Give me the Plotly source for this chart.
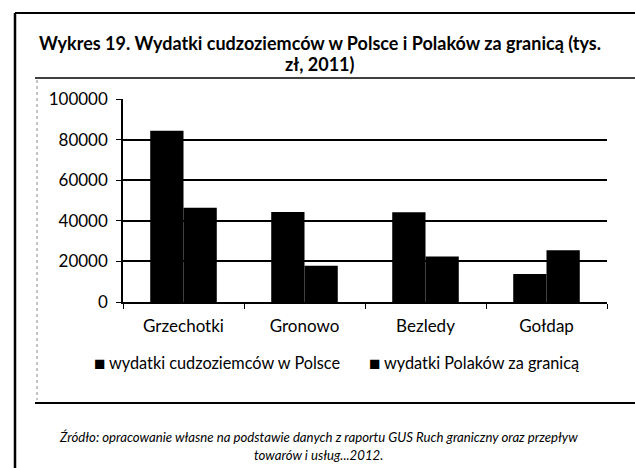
import plotly.graph_objects as go

categories = ["Grzechotki", "Gronowo", "Bezledy", "Gołdap"]
foreigners_in_poland = [84400, 44300, 44200, 13800]
poles_abroad = [46400, 17800, 22400, 25500]
series_names = ["wydatki cudzoziemców w Polsce", "wydatki Polaków za granicą"]
y_ticks = [0, 20000, 40000, 60000, 80000, 100000]

W, H = 635, 468
L, R, T, B = 123, 28, 99, 166
pw, ph = W - L - R, H - T - B

def px(x):
    return (x - L) / pw

def py(y):
    return (H - B - y) / ph

font = "Lato, 'Open Sans', sans-serif"

fig = go.Figure()
for name, vals in zip(series_names, [foreigners_in_poland, poles_abroad]):
    fig.add_trace(go.Bar(x=categories, y=vals, name=name,
                         marker=dict(color="black", line=dict(width=0))))

shapes = [
    # outer frame
    dict(x0=px(15), x1=px(15), y0=py(13), y1=py(468), line=dict(width=2.5)),
    dict(x0=px(15), x1=px(635), y0=py(13), y1=py(13), line=dict(width=2)),
    # chart box
    dict(x0=px(35), x1=px(635), y0=py(78), y1=py(78), line=dict(width=1.5)),
    dict(x0=px(35), x1=px(635), y0=py(403), y1=py(403), line=dict(width=2)),
    dict(x0=px(37), x1=px(37), y0=py(80), y1=py(400), line=dict(width=1, color="#888", dash="dot")),
]
for s in shapes:
    s.update(type="line", xref="paper", yref="paper")
    s["line"].setdefault("color", "black")

def note(text, x, y, size, anchor="center"):
    return dict(text=text, xref="paper", yref="paper", x=px(x), y=py(y), xanchor=anchor,
                yanchor="middle", showarrow=False, borderpad=0,
                font=dict(size=size, family=font))

annotations = [
    note("<b>Wykres 19. Wydatki cudzoziemców w Polsce i Polaków za granicą (tys.</b>", 320, 43, 18),
    note("<b>zł, 2011)</b>", 320, 64, 18),
    # legend swatches + labels
    note("■", 93, 362, 19, "left"),
    note(series_names[0], 108, 362, 16.3, "left"),
    note("■", 368, 362, 19, "left"),
    note(series_names[1], 383, 362, 16.3, "left"),
    note("<i>Źródło: opracowanie własne na podstawie danych z raportu GUS Ruch graniczny oraz przepływ</i>", 318, 437, 13.2),
    note("<i>towarów i usług...2012.</i>", 318, 455, 13.2),
]

fig.update_layout(
    width=W, height=H,
    margin=dict(l=L, r=R, t=T, b=B),
    paper_bgcolor="white", plot_bgcolor="white",
    font=dict(family=font, size=17, color="black"),
    barmode="group", bargap=0.45, bargroupgap=0,
    showlegend=False,
    shapes=shapes,
    annotations=annotations,
)
fig.update_xaxes(showline=True, linecolor="black", linewidth=1.5, ticks="outside",
                 tickson="boundaries", ticklen=5, tickcolor="black", showgrid=False,
                 ticklabelstandoff=8)
fig.update_yaxes(range=[0, 100000], tickvals=y_ticks, tickformat="d", showgrid=True, gridcolor="black",
                 gridwidth=1.5, showline=True, linecolor="black", linewidth=1.5,
                 ticks="outside", ticklen=5, tickcolor="black", zeroline=False,
                 ticklabelstandoff=5)

# drop the default page margin so the figure sits at the window corner
fig.write_html("out.html", config={"displayModeBar": False},
               post_script="document.body.style.margin='0';")
